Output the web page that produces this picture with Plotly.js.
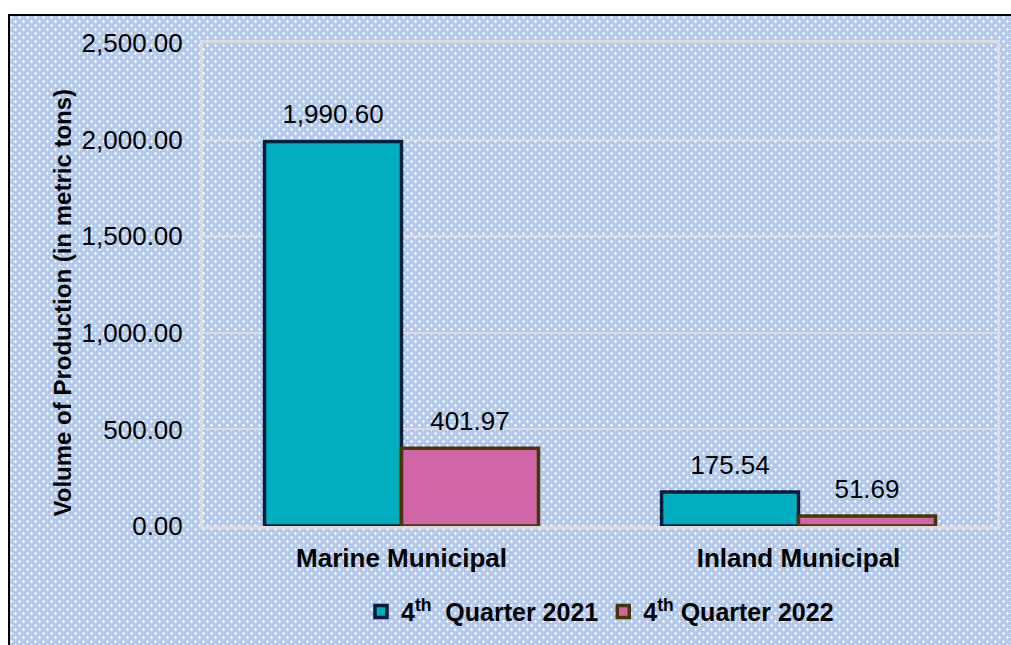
<!DOCTYPE html>
<html>
<head>
<meta charset="utf-8">
<script src="https://cdn.plot.ly/plotly-3.0.1.min.js"></script>
<style>
  html, body { margin: 0; padding: 0; background: #ffffff; }
  #frame {
    position: absolute; left: 8px; top: 14px; width: 1011px; height: 645px;
    border-left: 2px solid #000; border-top: 2px solid #000;
    background-color: #B6C8E8;
    background-image:
      radial-gradient(circle at 1.5px 1.5px, #ffffff 1.1px, transparent 1.4px),
      radial-gradient(circle at 5.5px 5.5px, #ffffff 1.1px, transparent 1.4px);
    background-size: 8px 8px, 8px 8px;
  }
  #chart { position: absolute; left: 0; top: 0; width: 1011px; height: 645px; }
</style>
</head>
<body>
<div id="frame"></div>
<div id="chart"></div>
<script>
const categories = ["Marine Municipal", "Inland Municipal"];
const seriesNames = ["4<sup>th</sup>  Quarter 2021", "4<sup>th</sup> Quarter 2022"];
const q4_2021 = [1990.60, 175.54];
const q4_2022 = [401.97, 51.69];
const yTicks = [0, 500, 1000, 1500, 2000, 2500];
const yTitle = 'Volume of Production (in metric tons)';

const fontFam = "Arial, 'Liberation Sans', sans-serif";
function fmt(v) { return v.toLocaleString('en-US', {minimumFractionDigits: 2, maximumFractionDigits: 2}); }

const series = [
  {name: seriesNames[0], values: q4_2021, fill: '#00AEBF', edge: '#0B1D3A', group: 'a'},
  {name: seriesNames[1], values: q4_2022, fill: '#D066A8', edge: '#4A3505', group: 'b'}
];

const traces = [];
series.forEach(s => {
  traces.push({
    type: 'bar', name: s.name, x: categories, y: s.values,
    offsetgroup: s.group,
    marker: {color: s.fill, line: {color: s.edge, width: 3.5}},
    hoverinfo: 'x+y'
  });
});
series.forEach(s => {
  traces.push({
    type: 'scatter', mode: 'markers+text', x: categories, y: s.values,
    offsetgroup: s.group, orientation: 'v',
    text: s.values.map(fmt), textposition: 'top center', cliponaxis: false,
    textfont: {family: fontFam, size: 26, color: '#000'},
    marker: {size: 17, color: 'rgba(0,0,0,0)'},
    showlegend: false, hoverinfo: 'skip'
  });
});

const layout = {
  width: 1011, height: 645,
  paper_bgcolor: 'rgba(0,0,0,0)', plot_bgcolor: 'rgba(0,0,0,0)',
  margin: {l: 203, r: 14, t: 43, b: 118},
  barmode: 'group', bargap: 0.31, bargroupgap: 0,
  scattermode: 'group', scattergap: 0.31,
  font: {family: fontFam, color: '#000'},
  showlegend: true,
  legend: {
    orientation: 'h', x: 0.5, xanchor: 'center', y: -0.175, yanchor: 'middle',
    font: {family: fontFam, size: 25, color: '#000', weight: 'bold'},
    bgcolor: 'rgba(0,0,0,0)', traceorder: 'normal'
  },
  xaxis: {
    type: 'category', showgrid: false,
    showline: true, mirror: true, linecolor: '#DCDCDC', linewidth: 3,
    ticks: '', ticklabelstandoff: 7,
    tickfont: {family: fontFam, size: 26, color: '#000', weight: 'bold'}
  },
  yaxis: {
    range: [0, 2500], tickvals: yTicks, ticktext: yTicks.map(fmt),
    showgrid: true, gridcolor: '#DCDCDC', gridwidth: 1.5,
    showline: true, mirror: true, linecolor: '#DCDCDC', linewidth: 3,
    zeroline: false, ticks: '', ticklabelstandoff: 12,
    tickfont: {family: fontFam, size: 26, color: '#000'}
  },
  annotations: [{
    text: yTitle, textangle: -90, showarrow: false,
    xref: 'paper', yref: 'paper', x: 0, y: 0.5,
    xanchor: 'center', yanchor: 'middle', xshift: -141, yshift: -18,
    font: {family: fontFam, size: 24, color: '#000', weight: 'bold'}
  }]
};

Plotly.newPlot('chart', traces, layout, {displayModeBar: false, responsive: false});
</script>
</body>
</html>
